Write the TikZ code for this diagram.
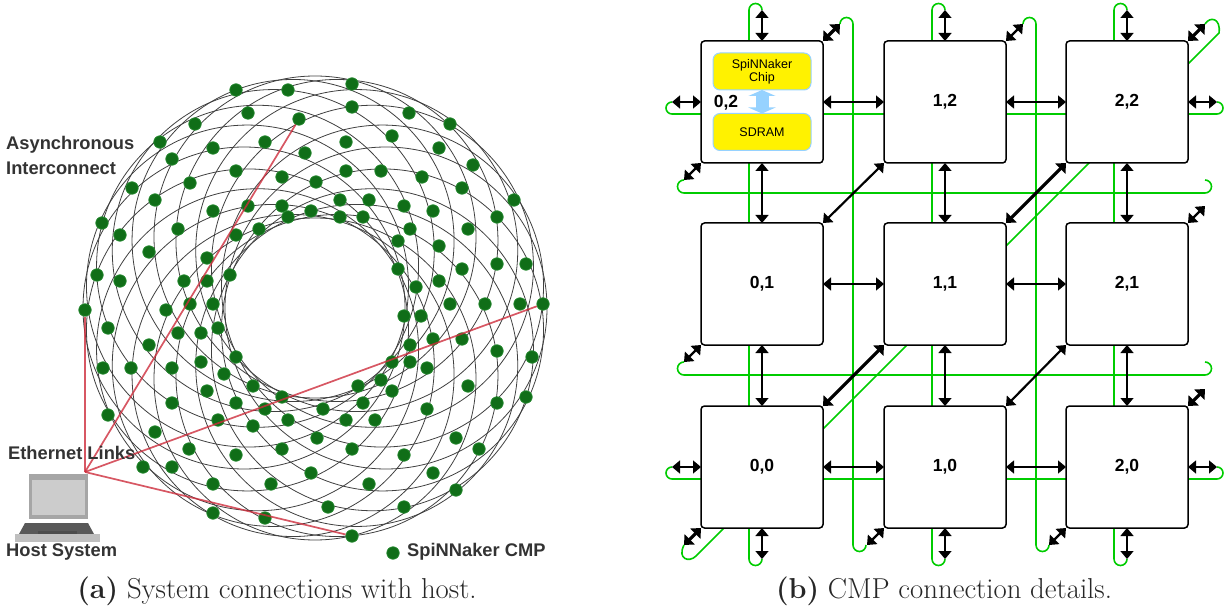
\documentclass[tikz,border=0pt]{standalone}
\usepackage{fontspec}
\setsansfont{Liberation Sans}
\usetikzlibrary{positioning, arrows.meta, backgrounds}

\definecolor{wiregreen}{RGB}{0,204,0}
\definecolor{cmpgreen}{RGB}{16,110,24}
\definecolor{cmprim}{RGB}{40,140,50}
\definecolor{linkred}{RGB}{205,45,60}
\definecolor{chipblue}{RGB}{150,210,255}

\begin{document}
\begin{tikzpicture}[x = 1pt, y = -1pt,
            board/.style={rectangle, draw, fill=white, line width=1.5pt, rounded corners=3.5pt, inner sep=0pt, outer sep=0pt, minimum size=122pt, font=\sffamily\bfseries\fontsize{17.5}{20}\selectfont},
            chip/.style={rectangle, draw=chipblue, fill=yellow, line width=1pt, rounded corners=7pt, inner sep=0pt, outer sep=0pt, minimum width=98pt, minimum height=37pt, align=center, font=\sffamily\fontsize{12.5}{13}\selectfont},
            link/.style={line width=1.5pt, {Triangle[length=8pt,width=13pt]}-{Triangle[length=8pt,width=13pt]}},
            midlink/.style={line width=2.2pt, {Triangle[length=8pt,width=13pt]}-{Triangle[length=8pt,width=13pt]}},
            fatlink/.style={line width=3.2pt, {Triangle[length=8pt,width=14pt]}-{Triangle[length=8pt,width=14pt]}},
            bus/.style={draw=chipblue, line width=13pt, {Triangle[length=6pt,width=27pt,color=chipblue]}-{Triangle[length=6pt,width=27pt,color=chipblue]}},
            wire/.style={draw=wiregreen, line width=1.6pt},
            mesh/.style={draw=black!75, line width=0.8pt},
            cmp/.style={circle, fill=cmpgreen, draw=cmprim, line width=0.7pt, inner sep=0pt, minimum size=12.5pt},
            ethernet/.style={draw=linkred, line width=1.7pt, opacity=0.8},
            label/.style={inner sep=0pt, text=black!80, font=\sffamily\bfseries\fontsize{18.3}{20}\selectfont},
            caption/.style={inner sep=0pt, anchor=base, text=black!85, font=\fontsize{28.8}{32}\selectfont}
        ]
            \useasboundingbox (0,0) rectangle (1225,609);

            % Torus mesh
            \foreach \k in {0,...,19} {
                \pgfmathsetmacro{\ang}{\k*360/20}
                \draw[mesh] (315,308) ++(\ang:71pt) circle[radius=161pt];
            }

            % Chips on the torus
            \foreach \px/\py [count=\i] in {
                236/90, 288/90, 248/113, 195/124, 160/142, 213/148, 265/142, 305/153, 172/159, 236/171, 282/177, 316/182,
                132/188, 190/183, 155/200, 248/206, 282/206, 311/211, 288/217, 213/211, 102/223, 120/235, 178/229, 259/229,
                236/235, 149/252, 207/258, 97/275, 120/281, 184/281, 207/281, 230/275, 166/310, 190/304, 213/304,
                352/84, 352/107, 409/113, 450/124, 392/136, 439/148, 346/142, 473/165, 422/177, 381/171, 346/171, 462/188,
                514/200, 369/200, 340/200, 404/206, 433/211, 340/217, 363/217, 497/217, 410/229, 468/229, 398/241, 439/246,
                398/269, 462/269, 497/264, 526/264, 439/281, 416/287, 404/316, 421/316, 450/304, 485/304, 520/304,
                410/345, 433/339, 462/339, 497/351, 532/357, 392/362, 410/362, 427/368, 468/386, 381/380, 358/386, 392/391,
                526/397, 497/403, 363/403, 427/409, 323/409, 375/420, 346/420, 317/438, 456/438, 479/449, 352/449, 404/455,
                311/473, 433/473, 369/484, 456/490, 328/507, 404/507,
                108/328, 178/333, 201/333, 218/328, 149/345, 236/357, 131/368, 103/368, 172/368, 201/362, 224/374, 253/386,
                207/391, 282/397, 172/403, 236/403, 265/409, 108/415, 218/420, 288/420, 155/432, 253/426, 189/449, 282/449,
                236/455, 143/467, 172/467, 213/484, 271/484, 213/513, 265/518} {
                \node[cmp] (cmp\i) at (\px,\py) {};
            }
            \node[cmp] (west) at (85,310) {};
            \node[cmp] (north) at (299,119) {};
            \node[cmp] (east) at (543,304) {};
            \node[cmp] (south) at (352,536) {};

            % Host laptop
            \fill[black!35] (29,474) rectangle (88,519);
            \fill[black!20] (32,480) rectangle (85,515);
            \fill[black!65] (25,523) -- (88,523) -- (94,534) -- (19,534) -- cycle;
            \fill[black!25] (15,534) -- (100,534) -- (100,542) -- (15,542) -- cycle;
            \fill[black!70] (38,531) rectangle (77,534);

            % Paths: Ethernet links
            \coordinate (host) at (85,472);
            \draw[ethernet] (host) -- (west);
            \draw[ethernet] (host) -- (north);
            \draw[ethernet] (host) -- (east);
            \draw[ethernet] (host) -- (south);

            % Labels
            \node[label, anchor=west] (async) at (6,145) {Asynchronous};
            \node[label, anchor=west] (inter) at (6,168) {Interconnect};
            \node[label, anchor=west] (eth) at (8,453) {Ethernet Links};
            \node[label, anchor=west] (hostname) at (6,552) {Host System};
            \node[cmp] (legend) at (393,553) {};
            \node[label, anchor=west] (cmpname) at (407,552) {SpiNNaker CMP};
            \node[caption] (capa) at (277,598) {\textbf{(a)} System connections with host.};
            \node[caption] (capb) at (944,598) {\textbf{(b)} CMP connection details.};

            % Nodes
            \node[board] (c02) at (762,102) {};
            \node[board, right = 61pt of c02] (c12) {1,2};
            \node[board, right = 60pt of c12] (c22) {2,2};
            \node[board, below = 60pt of c02] (c01) {0,1};
            \node[board, below = 60pt of c12] (c11) {1,1};
            \node[board, below = 60pt of c22] (c21) {2,1};
            \node[board, below = 61pt of c01] (c00) {0,0};
            \node[board, below = 61pt of c11] (c10) {1,0};
            \node[board, below = 61pt of c21] (c20) {2,0};

            % Free ends of the wrap-around links
            \foreach \col in {0,1,2} {
                \coordinate[above = 31pt of c\col2] (top\col);
                \coordinate[below = 31pt of c\col0] (bot\col);
            }
            \foreach \row in {2,0} {
                \coordinate[left = 29pt of c0\row] (lft\row);
                \coordinate[right = 29pt of c2\row] (rgt\row);
            }
            \foreach \c in {02,12,22,21,20} {
                \coordinate[above right = 17pt and 17pt of c\c.north east] (ne\c);
            }
            \foreach \c in {02,01,00,10,20} {
                \coordinate[below left = 17pt and 17pt of c\c.south west] (sw\c);
            }

            % Paths: Wrap-around wires
            \begin{pgfonlayer}{background}
                \foreach \col in {0,1,2} {
                    \draw[wire] (top\col) arc[start angle=0, end angle=180, radius=6.5pt] -- ++(0,549) arc[start angle=180, end angle=360, radius=6.5pt];
                }
                \foreach \row in {2,0} {
                    \draw[wire] (lft\row) arc[start angle=90, end angle=270, radius=6pt] -- ++(545,0) arc[start angle=-90, end angle=90, radius=6pt];
                }
                \draw[wire] (sw02) arc[start angle=90, end angle=270, radius=6.5pt] -- ++(521,0) arc[start angle=-90, end angle=90, radius=6.5pt];
                \draw[wire] (sw01) arc[start angle=90, end angle=270, radius=6.5pt] -- ++(521,0) arc[start angle=-90, end angle=90, radius=6.5pt];
                \draw[wire] (ne02) arc[start angle=180, end angle=0, radius=6.5pt] -- ++(0,521) arc[start angle=180, end angle=360, radius=6.5pt];
                \draw[wire] (ne12) arc[start angle=180, end angle=0, radius=6.5pt] -- ++(0,521) arc[start angle=180, end angle=360, radius=6.5pt];
                \draw[wire] (ne22) .. controls +(5,-8) and +(2,-15) .. ++(14,9) -- ++(-523,523) .. controls +(-7,7) and +(-7,14) .. (sw00);
            \end{pgfonlayer}

            % Inside of board 0,2
            \node[chip] (spin) at (762,71.5) {SpiNNaker\\Chip};
            \node[chip] (sdram) at (762,132) {SDRAM};
            \draw[bus] (spin) -- (sdram);
            \node[inner sep=0pt, font=\sffamily\bfseries\fontsize{17.5}{20}\selectfont] (c02name) at (726,103) {0,2};

            % Paths: Grid links
            \foreach \a/\b in {c02/c12, c12/c22, c01/c11, c11/c21, c00/c10, c10/c20,
                               c02/c01, c01/c00, c12/c11, c11/c10, c22/c21, c21/c20} {
                \draw[link] (\a) -- (\b);
            }
            \foreach \col in {0,1,2} {
                \draw[link] (c\col2) -- (top\col);
                \draw[link] (c\col0) -- (bot\col);
            }
            \foreach \row in {2,0} {
                \draw[link] (c0\row) -- (lft\row);
                \draw[link] (c2\row) -- (rgt\row);
            }

            % Paths: Diagonal links
            \draw[midlink] (c01.north east) -- (c12.south west);
            \draw[fatlink] (c11.north east) -- (c22.south west);
            \draw[fatlink] (c00.north east) -- (c11.south west);
            \draw[midlink] (c10.north east) -- (c21.south west);
            \draw[midlink] (c02.south west) -- (sw02);
            \draw[midlink] (c01.south west) -- (sw01);
            \draw[fatlink] (c00.south west) -- (sw00);
            \draw[midlink] (c10.south west) -- (sw10);
            \draw[midlink] (c20.south west) -- (sw20);
            \draw[fatlink] (c02.north east) -- (ne02);
            \draw[midlink] (c12.north east) -- (ne12);
            \draw[fatlink] (c22.north east) -- (ne22);
            \draw[midlink] (c21.north east) -- (ne21);
            \draw[fatlink] (c20.north east) -- (ne20);
        \end{tikzpicture}
\end{document}
